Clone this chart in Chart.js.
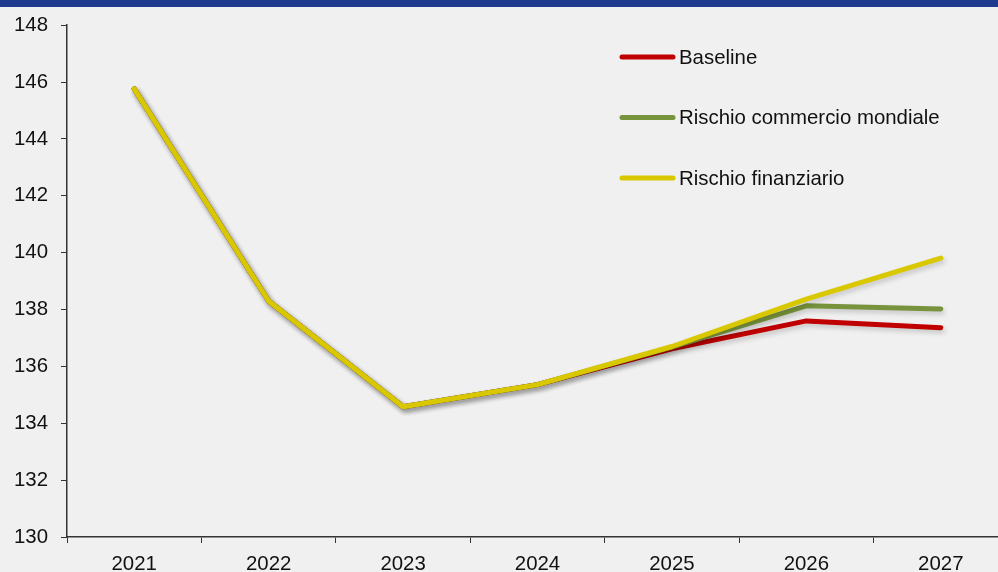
<!DOCTYPE html>
<html>
<head>
<meta charset="utf-8">
<script src="https://cdn.jsdelivr.net/npm/chart.js@4.4.1/dist/chart.umd.min.js"></script>
<style>
  html, body { margin: 0; padding: 0; overflow: hidden; background: #f0f0f0; }
  #wrap { position: relative; width: 1008px; height: 600px; }
</style>
</head>
<body>
<div id="wrap"><canvas id="myLineChart"></canvas></div>
<script>
const years = ['2021', '2022', '2023', '2024', '2025', '2026', '2027'];
const baseline = [145.76, 138.30, 134.58, 135.36, 136.62, 137.60, 137.36];
const commercio = [145.76, 138.30, 134.58, 135.36, 136.68, 138.13, 138.02];
const finanziario = [145.76, 138.30, 134.58, 135.36, 136.70, 138.37, 139.81];
const seriesNames = ['Baseline', 'Rischio commercio mondiale', 'Rischio finanziario'];
const seriesColors = ['#c00000', '#77933c', '#d9c800'];
const yTicks = [130, 132, 134, 136, 138, 140, 142, 144, 146, 148];

const FONT = "'Liberation Sans', Arial, sans-serif";

// background + top band
const backdrop = {
  id: 'backdrop',
  beforeDraw(chart) {
    const c = chart.ctx;
    c.save();
    c.fillStyle = '#f0f0f0';
    c.fillRect(0, 0, chart.width, chart.height);
    c.fillStyle = '#203a8f';
    c.fillRect(0, 0, chart.width, 7);
    c.restore();
  }
};

// soft shadow under the lines
const lineShadow = {
  id: 'lineShadow',
  beforeDatasetDraw(chart) {
    const c = chart.ctx;
    c.save();
    c.shadowColor = 'rgba(0,0,0,0.18)';
    c.shadowBlur = 5;
    c.shadowOffsetX = 2;
    c.shadowOffsetY = 3;
  },
  afterDatasetDraw(chart) {
    chart.ctx.restore();
  }
};

// legend drawn inside the plot, top right
const sideLegend = {
  id: 'sideLegend',
  afterDraw(chart) {
    const c = chart.ctx;
    c.save();
    c.font = '20.4px ' + FONT;
    c.textBaseline = 'middle';
    c.lineCap = 'round';
    seriesNames.forEach((name, i) => {
      const y = 57 + i * 60.5;
      c.strokeStyle = seriesColors[i];
      c.lineWidth = 5;
      c.beginPath();
      c.moveTo(622, y);
      c.lineTo(673, y);
      c.stroke();
      c.fillStyle = '#111';
      c.fillText(name, 679, y + 1);
    });
    c.restore();
  }
};

const data = {
  labels: years,
  datasets: [
    { label: seriesNames[0], data: baseline, borderColor: seriesColors[0], order: 3 },
    { label: seriesNames[1], data: commercio, borderColor: seriesColors[1], order: 2 },
    { label: seriesNames[2], data: finanziario, borderColor: seriesColors[2], order: 1 }
  ].map(d => Object.assign(d, {
    borderWidth: 5,
    pointRadius: 0,
    pointHoverRadius: 0,
    tension: 0,
    fill: false,
    borderCapStyle: 'round',
    borderJoinStyle: 'round'
  }))
};

const config = {
  type: 'line',
  data: data,
  options: {
    responsive: true,
    maintainAspectRatio: false,
    animation: false,
    layout: { padding: { top: 22, left: 0, right: 0, bottom: 0 } },
    plugins: {
      legend: { display: false },
      tooltip: { enabled: false }
    },
    scales: {
      x: {
        offset: true,
        afterFit: (scale) => { scale.height = 63; },
        grid: {
          offset: true,
          drawOnChartArea: false,
          drawTicks: true,
          tickLength: 6,
          color: '#333'
        },
        border: { color: '#333', width: 1.5 },
        ticks: {
          color: '#111',
          font: { family: FONT, size: 20.4 },
          padding: 9,
          maxRotation: 0
        }
      },
      y: {
        min: 130,
        max: 148,
        afterFit: (scale) => { scale.width = 67; },
        afterBuildTicks: (scale) => { scale.ticks = yTicks.map(v => ({ value: v })); },
        grid: {
          drawOnChartArea: false,
          drawTicks: true,
          tickLength: 6,
          color: '#333'
        },
        border: { color: '#333', width: 1.5 },
        ticks: {
          color: '#111',
          font: { family: FONT, size: 20.4 },
          padding: 13
        }
      }
    }
  },
  plugins: [backdrop, lineShadow, sideLegend]
};

Chart.defaults.color = '#111';
new Chart(document.getElementById('myLineChart'), config);
</script>
</body>
</html>
